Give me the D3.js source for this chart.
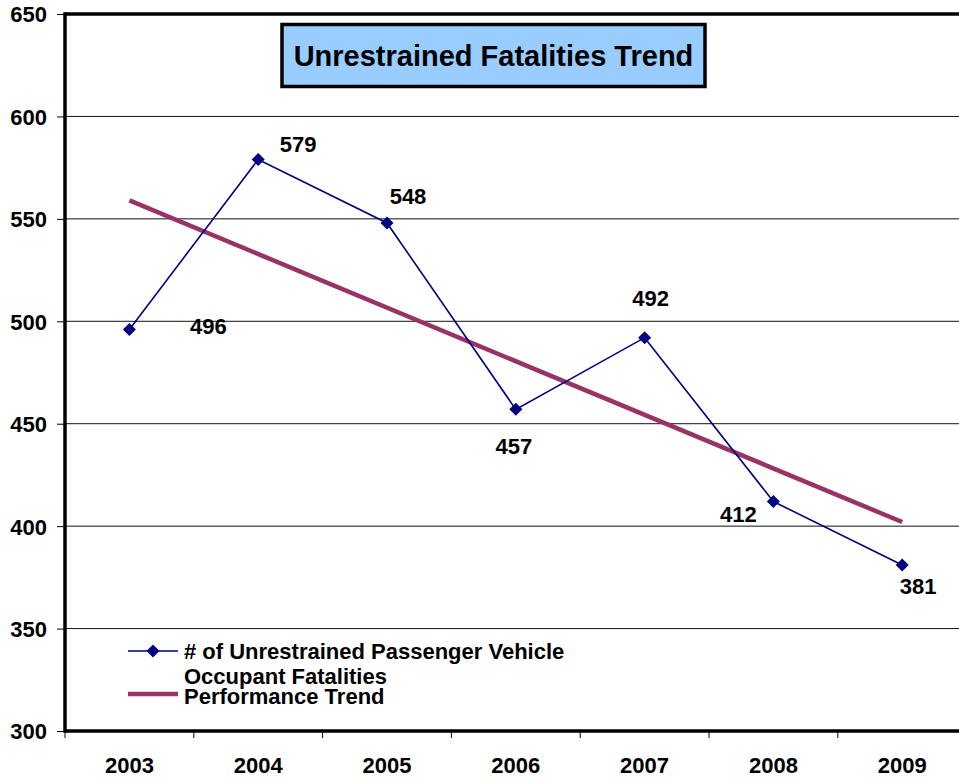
<!DOCTYPE html>
<html>
<head>
<meta charset="utf-8">
<script src="https://cdn.jsdelivr.net/npm/d3@7"></script>
<style>
  html, body { margin: 0; padding: 0; background: #fff; }
  svg { display: block; font-family: "Liberation Sans", Arial, sans-serif; font-weight: bold; }
</style>
</head>
<body>
<svg id="chart" width="959" height="780"></svg>
<script>
// ---- data ----
const years = ["2003", "2004", "2005", "2006", "2007", "2008", "2009"];
const fatalities = [496, 579, 548, 457, 492, 412, 381];
const trendEnds = [559, 402]; // performance trend at first and last year
const yTicks = [300, 350, 400, 450, 500, 550, 600, 650];
const titleText = "Unrestrained Fatalities Trend";
const seriesName = ["# of Unrestrained Passenger Vehicle", "Occupant Fatalities"];
const trendName = "Performance Trend";

// label offsets (layout) relative to each point
const labelOffsets = [[79, 5], [40, -7], [21, -19], [-2, 45], [6, -32], [-35, 20], [16, 29]];

const svg = d3.select("#chart");
const plot = { left: 65, top: 14, bottom: 731 };
const step = 128.8;
const plotRight = plot.left + step * years.length;

const x = d3.scaleBand().domain(years).range([plot.left, plotRight]).padding(0);
const y = d3.scaleLinear().domain([300, 650]).range([plot.bottom, plot.top]);
const cx = d => x(d) + x.bandwidth() / 2;

// gridlines
svg.append("g").selectAll("line").data(yTicks.filter(t => t !== 300 && t !== 650)).join("line")
  .attr("x1", plot.left).attr("x2", 959)
  .attr("y1", d => y(d)).attr("y2", d => y(d))
  .attr("stroke", "#111").attr("stroke-width", 1);

// y axis
const yAxis = d3.axisLeft(y).tickValues(yTicks).tickSize(8).tickPadding(10);
const yg = svg.append("g").attr("transform", `translate(${plot.left},0)`).call(yAxis);
yg.select(".domain").remove();
yg.selectAll(".tick line").attr("stroke", "#000").attr("stroke-width", 1);
yg.selectAll(".tick text").attr("font-size", 22).attr("font-weight", "bold")
  .attr("font-family", "Liberation Sans, Arial, sans-serif").attr("fill", "#000").attr("dy", "0.36em");

// x axis (category boundary ticks)
const xg = svg.append("g").attr("transform", `translate(0,${plot.bottom})`);
xg.selectAll("line.tk").data(years).join("line").attr("class", "tk")
  .attr("x1", d => x(d)).attr("x2", d => x(d))
  .attr("y1", 0).attr("y2", 7).attr("stroke", "#000").attr("stroke-width", 1);
xg.selectAll("text").data(years).join("text")
  .attr("x", d => cx(d)).attr("y", 42)
  .attr("text-anchor", "middle").attr("font-size", 22).attr("fill", "#000")
  .text(d => d);

// frame lines
svg.append("line").attr("x1", plot.left).attr("x2", 959).attr("y1", y(650)).attr("y2", y(650))
  .attr("stroke", "#000").attr("stroke-width", 3.5);
svg.append("line").attr("x1", plot.left).attr("x2", 959).attr("y1", y(300)).attr("y2", y(300))
  .attr("stroke", "#000").attr("stroke-width", 3.5);
svg.append("line").attr("x1", plot.left).attr("x2", plot.left).attr("y1", y(650) - 1.75).attr("y2", y(300) + 1.75)
  .attr("stroke", "#000").attr("stroke-width", 3.5);

// title box
const tg = svg.append("g");
tg.append("rect").attr("x", 282).attr("y", 24.5).attr("width", 423).attr("height", 62)
  .attr("fill", "#99CCFF").attr("stroke", "#000").attr("stroke-width", 3.5);
tg.append("text").attr("x", 493.5).attr("y", 66).attr("text-anchor", "middle")
  .attr("font-size", 29).attr("fill", "#000").text(titleText);

// trend line
const trendPts = [[years[0], trendEnds[0]], [years[years.length - 1], trendEnds[1]]];
svg.append("path")
  .attr("d", d3.line().x(d => cx(d[0])).y(d => y(d[1]))(trendPts))
  .attr("fill", "none").attr("stroke", "#993366").attr("stroke-width", 4.5);

// series line
const pts = years.map((yr, i) => [yr, fatalities[i]]);
svg.append("path")
  .attr("d", d3.line().x(d => cx(d[0])).y(d => y(d[1]))(pts))
  .attr("fill", "none").attr("stroke", "#000080").attr("stroke-width", 1.6);

const diamond = "M0,-6.5L6.5,0L0,6.5L-6.5,0Z";
svg.append("g").selectAll("path").data(pts).join("path")
  .attr("d", diamond)
  .attr("transform", d => `translate(${cx(d[0])},${y(d[1])})`)
  .attr("fill", "#000080");

// data labels
svg.append("g").selectAll("text").data(pts).join("text")
  .attr("x", (d, i) => cx(d[0]) + labelOffsets[i][0])
  .attr("y", (d, i) => y(d[1]) + labelOffsets[i][1])
  .attr("text-anchor", "middle").attr("font-size", 22).attr("fill", "#000")
  .text(d => d[1]);

// legend
const lg = svg.append("g");
lg.append("line").attr("x1", 128).attr("x2", 178).attr("y1", 651).attr("y2", 651)
  .attr("stroke", "#000080").attr("stroke-width", 1.6);
lg.append("path").attr("d", diamond).attr("transform", "translate(153,651)").attr("fill", "#000080");
lg.append("text").attr("x", 184).attr("y", 659).attr("font-size", 22).attr("fill", "#000").text(seriesName[0]);
lg.append("text").attr("x", 184).attr("y", 684).attr("font-size", 22).attr("fill", "#000").text(seriesName[1]);
lg.append("line").attr("x1", 128).attr("x2", 178).attr("y1", 694).attr("y2", 694)
  .attr("stroke", "#993366").attr("stroke-width", 4.5);
lg.append("text").attr("x", 184).attr("y", 704).attr("font-size", 22).attr("fill", "#000").text(trendName);
</script>
</body>
</html>
